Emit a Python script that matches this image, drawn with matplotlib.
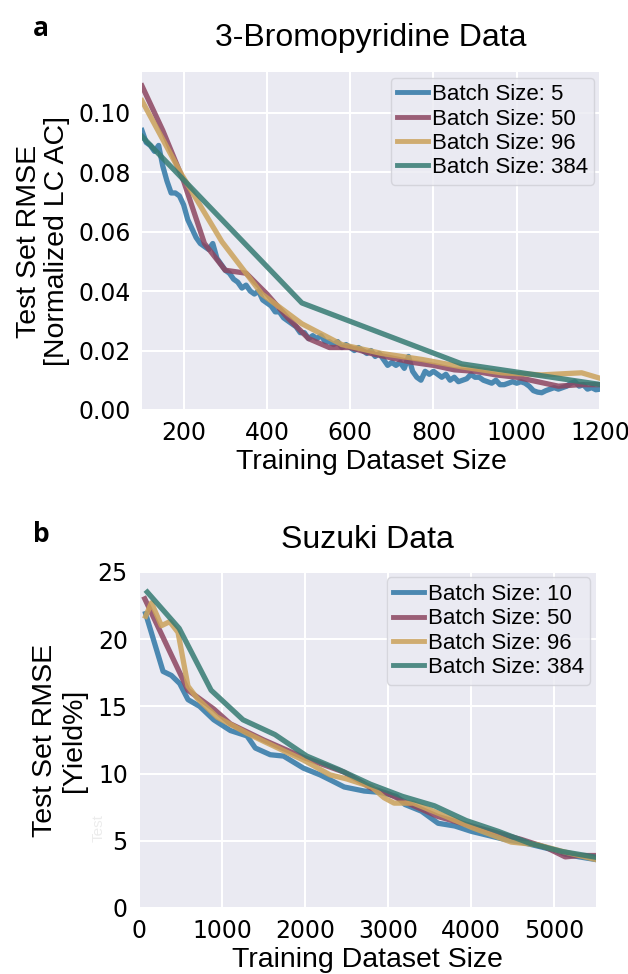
import numpy as np
import matplotlib.pyplot as plt

# ---- panel a: 3-Bromopyridine ----
bro_b5_x = list(range(100, 1201, 10))
bro_b5_y = [0.094, 0.090, 0.089, 0.087, 0.089, 0.082, 0.077, 0.073, 0.073, 0.072,
            0.069, 0.064, 0.061, 0.058, 0.056, 0.055, 0.054, 0.056, 0.051, 0.049,
            0.047, 0.046, 0.044, 0.043, 0.041, 0.042, 0.040, 0.039, 0.040, 0.037,
            0.036, 0.035, 0.033, 0.033, 0.031, 0.030, 0.029, 0.028, 0.026, 0.026,
            0.024, 0.025, 0.024, 0.025, 0.023, 0.023, 0.022, 0.023, 0.021, 0.022,
            0.021, 0.020, 0.021, 0.020, 0.019, 0.020, 0.018, 0.019, 0.017, 0.015,
            0.016, 0.015, 0.016, 0.014, 0.018, 0.013, 0.011, 0.010, 0.013, 0.012,
            0.013, 0.012, 0.011, 0.012, 0.010, 0.011, 0.0095, 0.010, 0.0105, 0.012,
            0.011, 0.011, 0.010, 0.0095, 0.009, 0.010, 0.0085, 0.0085, 0.009, 0.0095,
            0.009, 0.0095, 0.009, 0.008, 0.0065, 0.0060, 0.0058, 0.0065, 0.007, 0.0075,
            0.007, 0.0075, 0.008, 0.009, 0.0095, 0.008, 0.0085, 0.007, 0.0075, 0.0068,
            0.007]
bro_b50_x = list(range(100, 1201, 50))
bro_b50_y = [0.109, 0.094, 0.077, 0.056, 0.047, 0.046, 0.039, 0.031, 0.024, 0.021,
             0.021, 0.019, 0.0175, 0.016, 0.015, 0.0135, 0.013, 0.0118, 0.011, 0.0095,
             0.008, 0.0085, 0.0085]
bro_b96_x = [100, 196, 292, 388, 484, 580, 676, 772, 868, 964, 1060, 1156, 1252]
bro_b96_y = [0.104, 0.079, 0.0566, 0.039, 0.029, 0.022, 0.019, 0.017, 0.0145, 0.0125,
             0.0118, 0.0125, 0.0085]
bro_b384_x = [100, 484, 868, 1252]
bro_b384_y = [0.092, 0.036, 0.0155, 0.0075]

# ---- panel b: Suzuki ----
suz_b10_x = [80, 290, 390, 490, 590, 730, 900, 1100, 1300, 1400, 1580, 1740, 1980, 2180,
             2310, 2470, 2710, 2900, 3100, 3200, 3400, 3600, 3800, 4000, 4200, 4400,
             4600, 4800, 5000, 5130, 5300, 5500]
suz_b10_y = [21.9, 17.6, 17.3, 16.7, 15.5, 15.0, 14.0, 13.2, 12.8, 11.9, 11.4, 11.3, 10.4, 9.9,
             9.5, 9.0, 8.7, 8.6, 8.3, 7.7, 7.2, 6.3, 6.1, 5.7, 5.4, 5.1,
             4.9, 4.6, 4.3, 4.0, 3.8, 3.6]
suz_b50_x = [70, 590, 900, 1100, 1500, 1980, 2470, 2800, 3000, 3200, 3600, 4000, 4300,
             4600, 4900, 5130, 5300, 5500]
suz_b50_y = [23.0, 16.2, 14.8, 13.7, 12.5, 11.2, 10.1, 8.9, 8.5, 7.9, 6.8, 6.1, 5.6,
             5.1, 4.5, 3.8, 3.9, 3.9]
suz_b96_x = [80, 150, 270, 370, 470, 590, 700, 940, 1300, 1500, 1980, 2300, 2500, 2800,
             2950, 3070, 3300, 3700, 4000, 4480, 4800, 5100, 5500]
suz_b96_y = [21.7, 22.7, 21.0, 21.3, 20.5, 16.5, 15.6, 14.2, 13.0, 12.4, 11.0, 9.9, 9.6, 9.0,
             8.2, 7.8, 7.8, 6.8, 6.0, 4.9, 4.7, 4.2, 3.6]
suz_b384_x = [100, 484, 868, 1252, 1636, 2020, 2404, 2788, 3172, 3556, 3940, 4324, 4708,
              5092, 5476]
suz_b384_y = [23.5, 20.8, 16.2, 14.0, 12.9, 11.3, 10.3, 9.2, 8.3, 7.6, 6.5, 5.7, 4.8,
              4.2, 3.8]

colors = ['#2f77a6', '#8c4560', '#cba25a', '#357a72']
lw = 3.8
alpha = 0.85
lab_font = 'Liberation Sans'

fig = plt.figure(figsize=(6.28, 9.74), dpi=100)
ax1 = fig.add_axes([0.2261, 0.5791, 0.7293, 0.3470])
ax2 = fig.add_axes([0.2213, 0.0678, 0.7277, 0.3450])


def style(ax):
    ax.set_facecolor('#EAEAF2')
    ax.grid(True, color='white', linewidth=1.5)
    ax.set_axisbelow(True)
    for s in ax.spines.values():
        s.set_visible(False)
    ax.tick_params(length=0, labelsize=17, pad=8)


style(ax1)
ax1.plot(bro_b5_x, bro_b5_y, color=colors[0], lw=lw, alpha=alpha, label='Batch Size: 5')
ax1.plot(bro_b50_x, bro_b50_y, color=colors[1], lw=lw, alpha=alpha, label='Batch Size: 50')
ax1.plot(bro_b96_x, bro_b96_y, color=colors[2], lw=lw, alpha=alpha, label='Batch Size: 96')
ax1.plot(bro_b384_x, bro_b384_y, color=colors[3], lw=lw, alpha=alpha, label='Batch Size: 384')
ax1.set_xlim(100, 1200)
ax1.set_ylim(0, 0.1137)
ax1.set_xticks([200, 400, 600, 800, 1000, 1200])
ax1.set_yticks([0.0, 0.02, 0.04, 0.06, 0.08, 0.10])
ax1.set_yticklabels(['0.00', '0.02', '0.04', '0.06', '0.08', '0.10'])
ax1.set_title('3-Bromopyridine Data', fontsize=23, family=lab_font, pad=19)
ax1.set_xlabel('Training Dataset Size', fontsize=20.5, family=lab_font, labelpad=3)
ax1.set_ylabel('Test Set RMSE\n[Normalized LC AC]', fontsize=20.5, family=lab_font,
               linespacing=1.12, labelpad=6)

style(ax2)
ax2.plot(suz_b10_x, suz_b10_y, color=colors[0], lw=lw, alpha=alpha, label='Batch Size: 10')
ax2.plot(suz_b50_x, suz_b50_y, color=colors[1], lw=lw, alpha=alpha, label='Batch Size: 50')
ax2.plot(suz_b96_x, suz_b96_y, color=colors[2], lw=lw, alpha=alpha, label='Batch Size: 96')
ax2.plot(suz_b384_x, suz_b384_y, color=colors[3], lw=lw, alpha=alpha, label='Batch Size: 384')
ax2.set_xlim(0, 5500)
ax2.set_ylim(0, 25)
ax2.set_xticks([0, 1000, 2000, 3000, 4000, 5000])
ax2.set_yticks([0, 5, 10, 15, 20, 25])
ax2.set_title('Suzuki Data', fontsize=23, family=lab_font, pad=17)
ax2.set_xlabel('Training Dataset Size', fontsize=20.5, family=lab_font, labelpad=3)
ax2.set_ylabel('Test Set RMSE\n[Yield%]', fontsize=20.5, family=lab_font,
               linespacing=1.12, labelpad=8)

for ax in (ax1, ax2):
    leg = ax.legend(loc='upper right', prop={'family': lab_font, 'size': 16},
                    handlelength=1.4, handletextpad=0.15, labelspacing=0.15,
                    borderpad=0.3, borderaxespad=0.25, frameon=True, fancybox=True)
    leg.get_frame().set_facecolor('#EAEAF2')
    leg.get_frame().set_edgecolor('#cfcfd6')
    for h in leg.get_lines():
        h.set_linewidth(3.5)

fig.text(0.052, 0.963, 'a', fontsize=19, fontweight='bold', family='Open Sans', va='baseline')
fig.text(0.052, 0.4435, 'b', fontsize=19, fontweight='bold', family='Open Sans', va='baseline')
fig.text(0.157, 0.150, 'Test', fontsize=11, color='#ececec', rotation=90,
         ha='center', va='center', family=lab_font)

fig.savefig('out.png', dpi=100)
